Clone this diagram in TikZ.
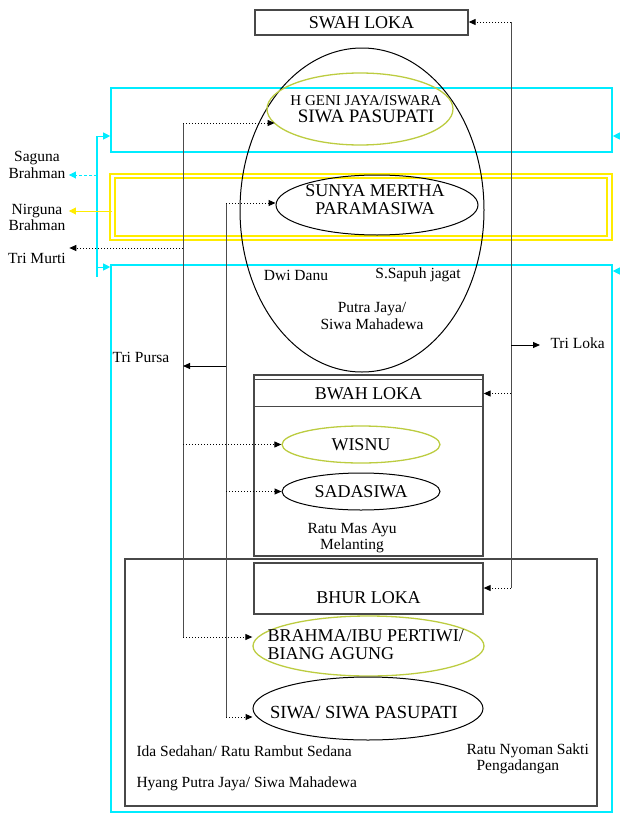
\documentclass[tikz,border=0pt]{standalone}
\usepackage{fontspec}
\setmainfont{Liberation Serif}
\usetikzlibrary{shapes.geometric, arrows.meta, positioning}
\definecolor{cyanline}{RGB}{0,236,255}
\definecolor{yellowline}{RGB}{255,236,0}
\definecolor{olivering}{RGB}{188,204,64}
\definecolor{boxgray}{RGB}{72,72,72}

\tikzset{
  lokabox/.style={draw=boxgray, line width=1.3pt, rectangle, inner sep=0pt},
  oval/.style={ellipse, draw, line width=1pt, inner sep=0pt},
  ovalolive/.style={oval, draw=olivering, line width=1.3pt},
  bigtext/.style={font=\fontsize{18}{18}\selectfont, align=center},
  smalltext/.style={font=\fontsize{15.5}{16.5}\selectfont, align=center},
  guide/.style={draw=black!70, line width=0.7pt},
  dotarrow/.style={black, dotted, line width=1pt, -{Triangle[length=7pt,width=6pt]}},
  solidarrow/.style={black, line width=1pt, -{Triangle[length=7pt,width=6pt]}},
  cyanframe/.style={draw=cyanline, line width=1.6pt},
  cyanarrow/.style={cyanline, line width=0.8pt, -{Triangle[length=7pt,width=7pt]}},
}

\begin{document}
\begin{tikzpicture}[x=1pt, y=-1pt]
\useasboundingbox (0,0) rectangle (620,814);

\node[cyanframe, minimum width=501, minimum height=64] (upper) at (361.5,120) {};
\node[draw=yellowline, line width=1.8pt, double=white, double distance=2.6pt,
  minimum width=497, minimum height=62] (middle) at (361,207) {};
\node[cyanframe, minimum width=501, minimum height=547] (lower) at (361.5,538.5) {};

\node[lokabox, minimum width=213, minimum height=25, bigtext] (swah) at (361.5,22.5) {SWAH LOKA};
\node[oval, minimum width=244, minimum height=324] (alam) at (362,210) {};
\node[ovalolive, minimum width=186, minimum height=72] (hgeni) at (360,109) {};
\node[align=center] (hgenitext) at (366,109)
  {{\fontsize{15}{15}\selectfont H GENI JAYA/ISWARA}\\[3pt]{\fontsize{19}{18}\selectfont SIWA PASUPATI}};
\node[oval, minimum width=202, minimum height=60] (sunya) at (377,205) {};
\node[bigtext] (sunyatext) at (375,200) {SUNYA MERTHA\\PARAMASIWA};
\node[smalltext] (dwidanu) at (296,275) {Dwi Danu};
\node[smalltext] (sapuh) at (418,275) {S.Sapuh jagat};
\node[smalltext] (putra) at (372,316) {Putra Jaya/\\Siwa Mahadewa};

\node[lokabox, minimum width=229, minimum height=181] (bwah) at (368.5,465.5) {};
\draw[boxgray, line width=1.3pt] ([yshift=-5pt]bwah.north west) -- ([yshift=-5pt]bwah.north east);
\draw[boxgray, line width=1.3pt] ([yshift=-32pt]bwah.north west) -- ([yshift=-32pt]bwah.north east);
\node[bigtext] (bwahtitle) at (368.5,393.5) {BWAH LOKA};
\node[ovalolive, minimum width=158, minimum height=37, bigtext] (wisnu) at (361,444.5) {WISNU};
\node[oval, minimum width=158, minimum height=37, bigtext] (sadasiwa) at (361,491.5) {SADASIWA};
\node[smalltext] (melanting) at (352,538) {Ratu Mas Ayu\\Melanting};

\node[lokabox, minimum width=472, minimum height=247] (bumi) at (361,682.5) {};
\node[lokabox, minimum width=229, minimum height=51] (bhur) at (368.5,588.5) {};
\node[bigtext] (bhurtitle) at (368.5,598) {BHUR LOKA};
\node[ovalolive, minimum width=231, minimum height=60] (brahma) at (368.5,646) {};
\node[bigtext, align=left, anchor=west] (brahmatext) at (264,645) {BRAHMA/IBU PERTIWI/\\BIANG AGUNG};
\node[oval, minimum width=230, minimum height=63] (siwa) at (368,708.5) {};
\node[font=\fontsize{18.5}{18}\selectfont] (siwatext) at (364,713) {SIWA/ SIWA PASUPATI};
\node[smalltext, anchor=west] (sedana) at (133,751) {Ida Sedahan/ Ratu Rambut Sedana};
\node[smalltext, anchor=west] (hyang) at (133,784) {Hyang Putra Jaya/ Siwa Mahadewa};
\node[smalltext, align=left, anchor=west] (nyoman) at (463,759) {Ratu Nyoman Sakti\\\hspace*{10pt}Pengadangan};

\node[smalltext] (saguna) at (37,165) {Saguna\\Brahman};
\node[smalltext] (nirguna) at (37,217.5) {Nirguna\\Brahman};
\node[smalltext] (trimurti) at (37,258) {Tri Murti};
\node[smalltext] (tripursa) at (141,357) {Tri Pursa};
\node[smalltext, anchor=west] (triloka) at (547,343) {Tri Loka};

\coordinate (murtiTop) at (183,123);
\coordinate (murtiOut) at (183,248);
\coordinate (murtiBot) at (183,637);
\coordinate (pursaTop) at (226,203);
\coordinate (pursaOut) at (226,366);
\coordinate (pursaBot) at (226,717);
\coordinate (lokaTop) at (511,22);
\coordinate (lokaOut) at (511,345);
\coordinate (lokaBot) at (511,588);
\coordinate (cyanTop) at (97,136);
\coordinate (cyanMid) at (97,175);
\coordinate (cyanLow) at (97,267);
\coordinate (cyanBot) at (97,277);
\coordinate (yellowOut) at (112,211);
\coordinate (rightTop) at (632,136);
\coordinate (rightLow) at (632,271);

\draw[guide] (murtiTop) -- (murtiBot);
\draw[dotarrow] (murtiTop) -- (murtiTop -| hgeni.190);
\draw[dotarrow] (murtiTop |- wisnu.west) -- (wisnu.west);
\draw[dotarrow] (murtiBot) -- (murtiBot -| brahma.west);
\draw[dotarrow] (murtiOut) -- (murtiOut -| trimurti.east);

\draw[guide] (pursaTop) -- (pursaBot);
\draw[dotarrow] (pursaTop) -- (pursaTop -| sunya.west);
\draw[dotarrow] (pursaTop |- sadasiwa.west) -- (sadasiwa.west);
\draw[dotarrow] (pursaBot) -- (pursaBot -| siwa.west);
\draw[solidarrow] (pursaOut) -- (pursaOut -| murtiTop);

\draw[guide] (lokaTop) -- (lokaBot);
\draw[dotarrow] (lokaTop) -- (lokaTop -| swah.east);
\draw[dotarrow] (lokaTop |- bwahtitle) -- (bwah.east |- bwahtitle);
\draw[dotarrow] (lokaBot) -- (lokaBot -| bhur.east);
\draw[solidarrow] (lokaOut) -- ([xshift=-7pt]lokaOut -| triloka.west);

\draw[cyanframe] (cyanTop) -- (cyanBot);
\draw[cyanarrow] (cyanTop) -- (cyanTop -| upper.west);
\draw[cyanarrow] (cyanLow) -- (cyanLow -| lower.west);
\draw[cyanarrow, densely dashed] (cyanMid) -- (cyanMid -| saguna.east);
\draw[yellowline, line width=0.8pt, -{Triangle[length=7pt,width=7pt]}] (yellowOut) -- (yellowOut -| nirguna.east);
\draw[cyanarrow] (rightTop) -- (rightTop -| upper.east);
\draw[cyanarrow] (rightLow) -- (rightLow -| lower.east);
\end{tikzpicture}
\end{document}
